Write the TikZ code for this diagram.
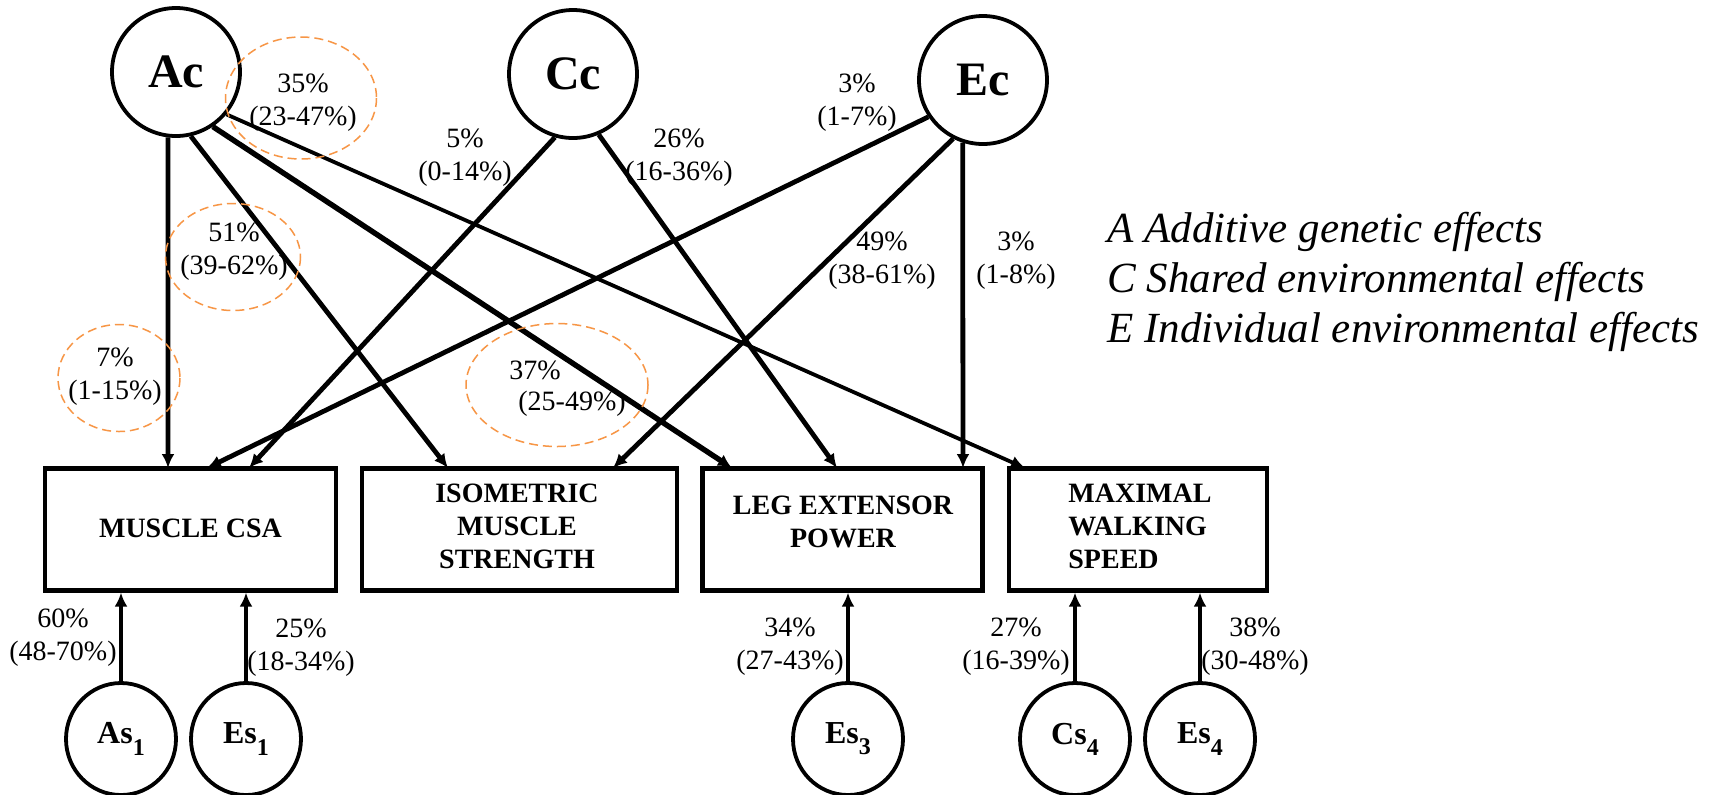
\documentclass[tikz,border=0pt]{standalone}
\usepackage{fontspec}
\setmainfont{Liberation Serif}
\usetikzlibrary{arrows.meta,shapes.geometric}
\definecolor{ciorange}{HTML}{F79646}

% lowered index digit for the specific-factor names
\newcommand{\lowidx}[1]{\raisebox{-0.35em}{\fontsize{12}{12}\selectfont #1}}

\begin{document}
\begin{tikzpicture}[x=0.5pt,y=-0.5pt,
  latent/.style={circle, draw, line width=1.9pt, minimum size=64pt, inner sep=0pt,
    font=\bfseries\fontsize{24}{28}\selectfont},
  resid/.style={ellipse, draw, line width=1.9pt, minimum width=55pt, minimum height=56pt,
    inner sep=0pt, font=\bfseries\fontsize{16}{18}\selectfont},
  trait/.style={rectangle, draw, line width=2.1pt, minimum height=61pt, inner sep=0pt},
  traittxt/.style={font=\bfseries\fontsize{14}{16.5}\selectfont, align=center, inner sep=0pt},
  link/.style={line width=2.4pt, -{Latex[length=7pt,width=6.5pt]}},
  pct/.style={font=\fontsize{14}{16.5}\selectfont, align=center, inner sep=0pt},
  ci/.style={draw=ciorange, line width=0.75pt, dash pattern=on 4.5pt off 2.5pt},
  legend/.style={font=\itshape\fontsize{21.5}{25}\selectfont, anchor=base west, inner sep=0pt}
]
\fill[white] (0,0) rectangle (1711,794);
\useasboundingbox (0,0) rectangle (1711,794);

% common factors
\node[latent] (Ac) at (176,72) {Ac};
\node[latent] (Cc) at (573,74) {Cc};
\node[latent] (Ec) at (983,80) {Ec};

% phenotypes
\node[trait, minimum width=145.5pt] (CSA) at (190.5,529.5) {};
\node[trait, minimum width=157.5pt] (ISO) at (519.5,529.5) {};
\node[trait, minimum width=140pt]   (LEG) at (842.5,529.5) {};
\node[trait, minimum width=129pt]   (MAX) at (1138,529.5) {};
\node[traittxt] (CSAt) at (190.5,528) {MUSCLE CSA};
\node[traittxt] (ISOt) at (517,526) {ISOMETRIC\\MUSCLE\\STRENGTH};
\node[traittxt] (LEGt) at (843,521.5) {LEG EXTENSOR\\POWER};
\node[traittxt, align=left, anchor=west] (MAXt) at (1068,526) {MAXIMAL\\WALKING\\SPEED};

% specific factors
\node[resid] (As1) at (121,739) {As\lowidx{1}};
\node[resid] (Es1) at (246,739) {Es\lowidx{1}};
\node[resid] (Es3) at (848,739) {Es\lowidx{3}};
\node[resid] (Cs4) at (1075,739) {Cs\lowidx{4}};
\node[resid] (Es4) at (1200,739) {Es\lowidx{4}};

% entry points on the top edges of the boxes
\coordinate (csaA) at (168,468);
\coordinate (csaE) at (207,468);
\coordinate (csaC) at (249,468);
\coordinate (isoA) at (448,468);
\coordinate (isoE) at (613,468);
\coordinate (legA) at (732,468);
\coordinate (legC) at (837,468);
\coordinate (legE) at (963,468);
\coordinate (maxA) at (1025,468);

% common-factor paths
\draw[link] (Ac.-97) -- (csaA);
\draw[link] (Ac.-77) -- (isoA);
\draw[link, line width=2.7pt] (Ac.-56) -- (legA);
\draw[link, line width=1.9pt] (Ac.-40) -- (maxA);
\draw[link] (Cc.-106) -- (csaC);
\draw[link] (Cc.-67) -- (legC);
\draw[link] (Ec.-146) -- (csaE);
\draw[link] (Ec.-117) -- (isoE);
\draw[link] (Ec.-108) -- (legE);

% specific-factor paths
\draw[link] (As1.north) -- (As1.north |- CSA.south);
\draw[link] (Es1.north) -- (Es1.north |- CSA.south);
\draw[link] (Es3.north) -- (Es3.north |- LEG.south);
\draw[link] (Cs4.north) -- (Cs4.north |- MAX.south);
\draw[link] (Es4.north) -- (Es4.north |- MAX.south);

% highlighted estimates
\draw[ci] (301,98) ellipse [x radius=75.5, y radius=61];
\draw[ci] (233,257) ellipse [x radius=67.5, y radius=53.5];
\draw[ci] (119,378) ellipse [x radius=61, y radius=53.5];
\draw[ci] (557,385) ellipse [x radius=91, y radius=61.5];

% path estimates
\node[pct] (p35) at (303,103) {35\%\\(23-47\%)};
\node[pct] (p5)  at (465,158) {5\%\\(0-14\%)};
\node[pct] (p26) at (679,158) {26\%\\(16-36\%)};
\node[pct] (p3a) at (857,103) {3\%\\(1-7\%)};
\node[pct] (p51) at (234,252) {51\%\\(39-62\%)};
\node[pct] (p49) at (882,261) {49\%\\(38-61\%)};
\node[pct] (p3b) at (1016,261) {3\%\\(1-8\%)};
\node[pct] (p7)  at (115,377) {7\%\\(1-15\%)};
\node[pct] (p37a) at (535,370) {37\%};
\node[pct] (p37b) at (572,404) {(25-49\%)};
\node[pct] (p60) at (63,638) {60\%\\(48-70\%)};
\node[pct] (p25) at (301,648) {25\%\\(18-34\%)};
\node[pct] (p34) at (790,647) {34\%\\(27-43\%)};
\node[pct] (p27) at (1016,647) {27\%\\(16-39\%)};
\node[pct] (p38) at (1255,647) {38\%\\(30-48\%)};

% key
\node[legend] (LA) at (1107,242) {A Additive genetic effects};
\node[legend] (LC) at (1107,292) {C Shared environmental effects};
\node[legend] (LE) at (1107,342) {E Individual environmental effects};
\end{tikzpicture}
\end{document}
